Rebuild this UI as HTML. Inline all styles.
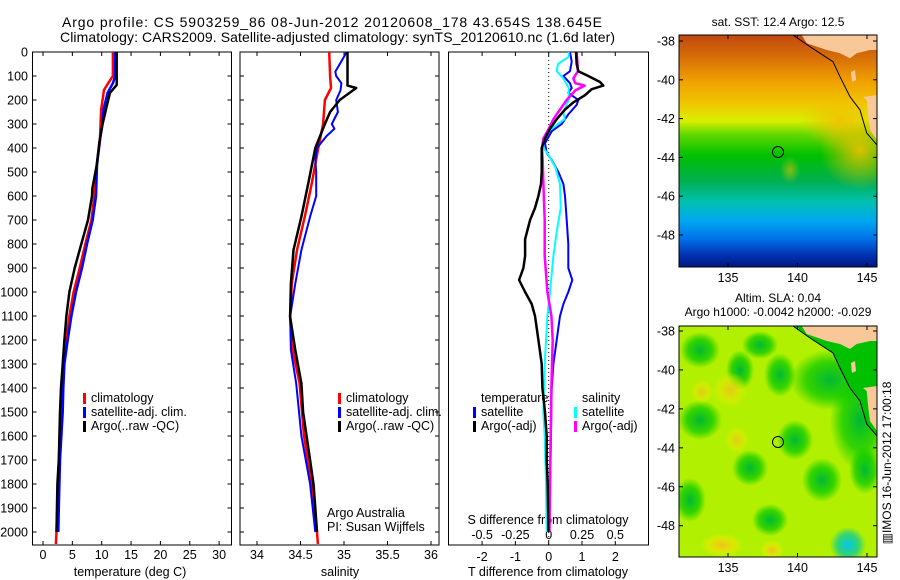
<!DOCTYPE html>
<html><head><meta charset="utf-8"><style>
html,body{margin:0;padding:0;background:#fff;}
svg{display:block;font-family:"Liberation Sans",sans-serif;}
</style></head><body>
<svg id="fig" width="900" height="580" viewBox="0 0 900 580" xmlns="http://www.w3.org/2000/svg">
<defs>
<linearGradient id="sstGrad" x1="0" y1="0" x2="0" y2="1">
<stop offset="0" stop-color="#c04810"/><stop offset="0.1" stop-color="#d87008"/>
<stop offset="0.2" stop-color="#f0a000"/><stop offset="0.3" stop-color="#f0c800"/>
<stop offset="0.37" stop-color="#d8f000"/><stop offset="0.43" stop-color="#60d800"/>
<stop offset="0.52" stop-color="#00c000"/><stop offset="0.63" stop-color="#00b050"/>
<stop offset="0.72" stop-color="#00c0b0"/><stop offset="0.8" stop-color="#00a8f0"/>
<stop offset="0.88" stop-color="#0070e8"/><stop offset="0.95" stop-color="#0030b0"/>
<stop offset="1" stop-color="#001880"/></linearGradient>
<radialGradient id="sstR" cx="0.5" cy="0.5" r="0.5"><stop offset="0" stop-color="#f0c000" stop-opacity="0.9"/><stop offset="1" stop-color="#f0c000" stop-opacity="0"/></radialGradient>
<radialGradient id="gSpot" cx="0.5" cy="0.5" r="0.5"><stop offset="0" stop-color="#00b838"/><stop offset="0.6" stop-color="#00c800" stop-opacity="0.7"/><stop offset="1" stop-color="#00c800" stop-opacity="0"/></radialGradient>
<radialGradient id="ySpot" cx="0.5" cy="0.5" r="0.5"><stop offset="0" stop-color="#f0c020"/><stop offset="0.6" stop-color="#e8e800" stop-opacity="0.7"/><stop offset="1" stop-color="#e8f000" stop-opacity="0"/></radialGradient>
<radialGradient id="cSpot" cx="0.5" cy="0.5" r="0.5"><stop offset="0" stop-color="#00c8f0"/><stop offset="0.6" stop-color="#00c8a0" stop-opacity="0.7"/><stop offset="1" stop-color="#00c8a0" stop-opacity="0"/></radialGradient>
<clipPath id="clipTop"><rect x="679" y="35" width="198" height="232"/></clipPath>
<clipPath id="clipBot"><rect x="679" y="326" width="198" height="231"/></clipPath>
</defs>

<text x="62" y="27" font-size="14" textLength="540">Argo profile: CS 5903259_86 08-Jun-2012 20120608_178 43.654S 138.645E</text>
<text x="60" y="42" font-size="14" textLength="555">Climatology: CARS2009. Satellite-adjusted climatology: synTS_20120610.nc (1.6d later)</text>

<g id="p1"></g>
<g id="p2"></g>
<g id="p3"></g>

<g>
<text x="778" y="26" font-size="12" text-anchor="middle">sat. SST: 12.4 Argo: 12.5</text>
<g clip-path="url(#clipTop)">
<rect x="679" y="35" width="198" height="232" fill="url(#sstGrad)"/>
<ellipse cx="860" cy="150" rx="40" ry="40" fill="url(#sstR)"/>
<ellipse cx="840" cy="120" rx="40" ry="30" fill="url(#sstR)"/>
<ellipse cx="790" cy="170" rx="10" ry="14" fill="url(#sstR)" opacity="0.6"/>
<polygon points="801.7,35 806.7,43.3 826.7,50 840,53.3 850,58.3 856.7,53.3 870,50 877,50 877,35" fill="#f8c898"/>
<polygon points="863,97 866.7,100 868.3,116.7 870,130 877,140 877,95" fill="#f8c898"/>
<polygon points="851,72 855,70 856,80 852,82" fill="#f8c898"/>
<polyline points="793,35 810,46.7 833,61.7 840,76.7 850,96.7 860,110 866.7,133 877,145" fill="none" stroke="#000" stroke-width="1"/>
</g>
<rect x="679" y="35" width="198" height="232" fill="none" stroke="#000" stroke-width="1"/>
<circle cx="778" cy="152" r="5.5" fill="none" stroke="#000" stroke-width="1"/>
<g id="mapAxTop"></g>
</g>

<g>
<text x="778" y="302" font-size="12" text-anchor="middle">Altim. SLA: 0.04</text>
<text x="778" y="316" font-size="12" text-anchor="middle">Argo h1000: -0.0042 h2000: -0.029</text>
<g clip-path="url(#clipBot)">
<rect x="679" y="326" width="198" height="231" fill="#b0f000"/>
<ellipse cx="760" cy="345" rx="18" ry="14" fill="url(#gSpot)"/>
<ellipse cx="700" cy="350" rx="20" ry="18" fill="url(#gSpot)"/>
<ellipse cx="740" cy="370" rx="14" ry="20" fill="url(#gSpot)"/>
<ellipse cx="780" cy="375" rx="16" ry="22" fill="url(#gSpot)"/>
<ellipse cx="830" cy="380" rx="40" ry="30" fill="url(#gSpot)"/>
<ellipse cx="860" cy="420" rx="30" ry="50" fill="url(#gSpot)"/>
<ellipse cx="700" cy="420" rx="22" ry="20" fill="url(#gSpot)"/>
<ellipse cx="795" cy="440" rx="18" ry="20" fill="url(#gSpot)"/>
<ellipse cx="750" cy="468" rx="18" ry="18" fill="url(#gSpot)"/>
<ellipse cx="822" cy="480" rx="20" ry="22" fill="url(#gSpot)"/>
<ellipse cx="770" cy="520" rx="18" ry="16" fill="url(#gSpot)"/>
<ellipse cx="690" cy="500" rx="16" ry="22" fill="url(#gSpot)"/>
<ellipse cx="865" cy="470" rx="16" ry="24" fill="url(#gSpot)"/>
<ellipse cx="730" cy="390" rx="18" ry="18" fill="url(#ySpot)" opacity="0.8"/>
<ellipse cx="702" cy="392" rx="12" ry="12" fill="url(#ySpot)" opacity="0.8"/>
<ellipse cx="737" cy="440" rx="12" ry="14" fill="url(#ySpot)" opacity="0.8"/>
<ellipse cx="722" cy="545" rx="22" ry="12" fill="url(#ySpot)"/>
<ellipse cx="772" cy="550" rx="12" ry="10" fill="url(#ySpot)"/>
<ellipse cx="848" cy="545" rx="18" ry="18" fill="url(#cSpot)"/>
<polygon points="793,326 810,338 833,353 840,368 850,388 860,401 866.7,424 877,436 877,326" fill="#00c000"/>
<polygon points="801.7,326 806.7,334 826.7,341 840,344 850,349 856.7,344 870,341 877,341 877,326" fill="#f8c898"/>
<polygon points="863,388 866.7,391 868.3,408 870,421 877,431 877,386" fill="#f8c898"/>
<polygon points="851,363 855,361 856,371 852,373" fill="#f8c898"/>
<polyline points="793,326 810,338 833,353 840,368 850,388 860,401 866.7,424 877,436" fill="none" stroke="#000" stroke-width="1"/>
</g>
<rect x="679" y="326" width="198" height="231" fill="none" stroke="#000" stroke-width="1"/>
<circle cx="778" cy="442" r="5.5" fill="none" stroke="#000" stroke-width="1"/>
<g id="mapAxBot"></g>
</g>

<text transform="translate(891,463) rotate(-90)" font-size="12" text-anchor="middle">▥IMOS 16-Jun-2012 17:00:18</text>
</svg>
<script>
const tDepthArgo = [0,137,171,242,305,375,472,570,600,700,800,900,1000,1100,1200,1300,1400,1500,1700,1800,2000];
const tArgo      = [12.55,12.55,11.4,10.7,10.1,9.6,9.15,8.4,8.35,7.67,6.53,5.4,4.49,3.98,3.64,3.35,3.07,2.9,2.7,2.45,2.3];
const tDepthClim = [0,100,130,158,242,305,375,472,600,700,800,900,1000,1100,1200,1300,1400,1500,2000,2050];
const tClim      = [11.9,11.9,11.1,10.4,9.9,9.8,9.7,9.15,8.75,8.24,7.21,6.25,5.22,4.49,3.98,3.6,3.3,3.0,2.3,2.2];
const tDepthSat  = [0,100,130,170,240,305,375,470,600,700,800,900,1000,1100,1200,1300,1400,1500,1700,1900,2000];
const tSat       = [12.3,12.3,11.9,11.0,10.3,10.1,9.65,9.2,9.03,8.46,7.5,6.64,5.62,4.83,4.2,3.64,3.45,3.35,2.9,2.7,2.6];

const sDepthArgo = [0,140,150,200,250,300,400,547,686,825,964,1103,1242,1381,1500,1600,1700,1800,1900,2000];
const sArgo      = [35.04,35.04,35.14,34.95,34.84,34.78,34.67,34.59,34.51,34.42,34.39,34.38,34.44,34.51,34.53,34.57,34.61,34.65,34.67,34.69];
const sDepthClim = [0,100,150,200,300,408,547,686,825,964,1103,1242,1381,1600,1800,2000,2050];
const sClim      = [34.83,34.84,34.85,34.78,34.76,34.70,34.63,34.55,34.46,34.40,34.38,34.41,34.49,34.54,34.63,34.69,34.70];
const sDepthSat  = [0,20,82,100,130,160,200,250,300,320,350,400,450,500,600,686,825,964,1103,1242,1381,1600,1800,2000];
const sSat       = [35.03,35.0,34.9,34.91,34.97,34.96,34.91,34.93,34.86,34.89,34.8,34.69,34.67,34.68,34.68,34.61,34.51,34.44,34.38,34.39,34.45,34.51,34.61,34.67];

const dDepthTArgo = [0,50,80,100,125,140,155,180,210,240,280,320,360,400,500,550,600,650,700,780,850,900,950,1000,1050,1100,1200,1300,1400,1500,1600,1700,1800,2000];
const dTArgo      = [0.82,0.84,0.89,1.19,1.54,1.64,1.29,1.09,0.74,0.49,0.24,0.04,-0.11,-0.21,-0.21,-0.23,-0.31,-0.41,-0.56,-0.71,-0.71,-0.76,-0.89,-0.71,-0.51,-0.41,-0.31,-0.21,-0.19,-0.11,-0.06,-0.06,-0.03,-0.01];
const dDepthTSat  = [0,40,80,100,130,150,170,200,220,260,300,330,380,420,450,500,550,600,700,800,900,950,1000,1050,1100,1200,1300,1400,1600,1800,2000];
const dTSat       = [0.64,0.69,0.64,0.44,0.64,0.69,0.59,0.89,0.84,0.59,0.39,0.09,-0.11,-0.06,0.09,0.29,0.44,0.49,0.54,0.59,0.59,0.71,0.59,0.44,0.34,0.24,0.14,0.09,0.07,0.04,0.02];
const dDepthSSat  = [0,20,50,80,110,150,200,250,280,300,330,370,400,430,480,550,650,750,850,1000,1100,1300,1400,1500,1600,1800,2000];
const dSSat       = [0.15,0.15,0.07,0.06,0.11,0.15,0.15,0.11,0.12,0.07,0,-0.04,-0.04,0,0.05,0.085,0.09,0.06,0.035,0.01,-0.01,-0.03,-0.035,-0.04,-0.03,-0.02,-0.015];
const dDepthSArgo = [0,80,110,130,140,160,200,240,280,320,360,400,450,550,700,850,1000,1100,1200,1300,1400,1600,1800,2000];
const dSArgo      = [0.21,0.22,0.185,0.2,0.27,0.2,0.135,0.085,0.035,0,-0.04,-0.05,-0.045,-0.04,-0.03,-0.03,-0.01,0.02,0.03,0.025,0.02,0.015,0.01,0.005];

const depthTicks = [0,100,200,300,400,500,600,700,800,900,1000,1100,1200,1300,1400,1500,1600,1700,1800,1900,2000];
const tempTicks = [0,5,10,15,20,25,30];
const salTicks = [34,34.5,35,35.5,36];
const salTickLabels = ["34","34.5","35","35.5","36"];
const dTTicks = [-2,-1,0,1,2];
const dSTicks = [-0.5,-0.25,0,0.25,0.5];
const dSTickLabels = ["-0.5","-0.25","0","0.25","0.5"];
const latTicks = [-38,-40,-42,-44,-46,-48];
const lonTicks = [135,140,145];

const NS="http://www.w3.org/2000/svg";
const yD = d => 52 + d*0.24;
const xT = t => 43 + t*5.87;
const xS = s => 257 + (s-34)*87;
const xDT = v => 548.7 + v*33.3;
const xDS = v => 548.7 + v*4*33.3;
const xLon = l => 728 + (l-135)*13.9;
const yLatTop = l => 41 + (-38-l)*19.4;
const yLatBot = l => 331 + (-38-l)*19.47;

function mk(tag, attrs, parent){const e=document.createElementNS(NS,tag);for(const k in attrs)e.setAttribute(k,attrs[k]);parent.appendChild(e);return e;}
function txt(s,attrs,parent){const e=mk('text',attrs,parent);e.textContent=s;return e;}
function line(xs,ds,fx,color,w,parent,name){
  let p='';for(let i=0;i<xs.length;i++){p+=(i?'L':'M')+fx(xs[i]).toFixed(1)+','+yD(ds[i]).toFixed(1);}
  const e=mk('path',{d:p,fill:'none',stroke:color,'stroke-width':w,'stroke-linejoin':'round'},parent);
  
  
  return e;
}
function frame(g,x0,x1,name){
  const r=mk('rect',{x:x0,y:52,width:x1-x0,height:493,fill:'none',stroke:'#000','stroke-width':1},g);
  
  
}
function legend(g,x,y,color,label,name){
  const m=mk('rect',{x:x,y:y-9,width:3,height:11,fill:color},g);
  
  
  const t=txt(label,{x:x+8,y:y,'font-size':12.5},g);
  
  
}
function label(s,attrs,parent,name){
  const t=txt(s,attrs,parent);
  
  
}

const p1=document.getElementById('p1');
frame(p1,32.5,231.5,'temperature-plot-frame');
depthTicks.forEach(d=>{
  mk('line',{x1:32.5,x2:36.5,y1:yD(d),y2:yD(d),stroke:'#000'},p1);
  mk('line',{x1:227.5,x2:231.5,y1:yD(d),y2:yD(d),stroke:'#000'},p1);
  label(String(d),{x:28,y:yD(d)+4.5,'font-size':12.5,'text-anchor':'end'},p1,'depth-tick-label');
});
tempTicks.forEach(v=>{
  mk('line',{x1:xT(v),x2:xT(v),y1:52,y2:56,stroke:'#000'},p1);
  mk('line',{x1:xT(v),x2:xT(v),y1:541,y2:545,stroke:'#000'},p1);
  label(String(v),{x:xT(v),y:559,'font-size':12.5,'text-anchor':'middle'},p1,'temperature-tick-label');
});
label('temperature (deg C)',{x:130,y:576,'font-size':12.5,'text-anchor':'middle'},p1,'temperature-axis-title');
line(tClim,tDepthClim,xT,'#ff0000',2.5,p1,'temperature-climatology-line');
line(tSat,tDepthSat,xT,'#0000ff',2.5,p1,'temperature-satellite-line');
line(tArgo,tDepthArgo,xT,'#000000',2.5,p1,'temperature-argo-line');
legend(p1,83,402,'#ff0000','climatology','temp-legend-climatology');
legend(p1,83,416,'#0000ff','satellite-adj. clim.','temp-legend-satellite');
legend(p1,83,430,'#000000','Argo(..raw -QC)','temp-legend-argo');

const p2=document.getElementById('p2');
frame(p2,240,439,'salinity-plot-frame');
depthTicks.forEach(d=>{
  mk('line',{x1:240,x2:244,y1:yD(d),y2:yD(d),stroke:'#000'},p2);
  mk('line',{x1:435,x2:439,y1:yD(d),y2:yD(d),stroke:'#000'},p2);
});
salTicks.forEach((v,i)=>{
  mk('line',{x1:xS(v),x2:xS(v),y1:52,y2:56,stroke:'#000'},p2);
  mk('line',{x1:xS(v),x2:xS(v),y1:541,y2:545,stroke:'#000'},p2);
  label(salTickLabels[i],{x:xS(v),y:559,'font-size':12.5,'text-anchor':'middle'},p2,'salinity-tick-label');
});
label('salinity',{x:340,y:576,'font-size':12.5,'text-anchor':'middle'},p2,'salinity-axis-title');
line(sClim,sDepthClim,xS,'#ff0000',2.5,p2,'salinity-climatology-line');
line(sSat,sDepthSat,xS,'#0000ff',2,p2,'salinity-satellite-line');
line(sArgo,sDepthArgo,xS,'#000000',2.5,p2,'salinity-argo-line');
legend(p2,338,402,'#ff0000','climatology','sal-legend-climatology');
legend(p2,338,416,'#0000ff','satellite-adj. clim.','sal-legend-satellite');
legend(p2,338,430,'#000000','Argo(..raw -QC)','sal-legend-argo');
label('Argo Australia',{x:327,y:517,'font-size':12.5},p2,'argo-australia-label');
label('PI: Susan Wijffels',{x:327,y:531,'font-size':12.5},p2,'pi-label');

const p3=document.getElementById('p3');
frame(p3,448.5,648.5,'difference-plot-frame');
mk('line',{x1:xDT(0),x2:xDT(0),y1:52,y2:545,stroke:'#000','stroke-width':1,'stroke-dasharray':'1,3'},p3);
dTTicks.forEach(v=>{
  mk('line',{x1:xDT(v),x2:xDT(v),y1:52,y2:56,stroke:'#000'},p3);
  mk('line',{x1:xDT(v),x2:xDT(v),y1:541,y2:545,stroke:'#000'},p3);
  label(String(v),{x:xDT(v),y:561,'font-size':12.5,'text-anchor':'middle'},p3,'temp-diff-tick-label');
});
dSTicks.forEach((v,i)=>{
  label(dSTickLabels[i],{x:xDS(v),y:539,'font-size':12.5,'text-anchor':'middle'},p3,'sal-diff-tick-label');
});
label('S difference from climatology',{x:548,y:524,'font-size':12.5,'text-anchor':'middle'},p3,'sal-diff-axis-title');
label('T difference from climatology',{x:548,y:576,'font-size':12.5,'text-anchor':'middle'},p3,'temp-diff-axis-title');
line(dTSat,dDepthTSat,xDT,'#0000ff',2,p3,'temp-diff-satellite-line');
line(dSSat,dDepthSSat,xDS,'#00ffff',2,p3,'sal-diff-satellite-line');
line(dSArgo,dDepthSArgo,xDS,'#ff00ff',2.5,p3,'sal-diff-argo-line');
line(dTArgo,dDepthTArgo,xDT,'#000000',2.5,p3,'temp-diff-argo-line');
label('temperature',{x:481,y:402,'font-size':12.5},p3,'temp-legend-heading');
label('salinity',{x:582,y:402,'font-size':12.5},p3,'sal-legend-heading');
legend(p3,473,416,'#0000ff','satellite','diff-legend-temp-satellite');
legend(p3,473,430,'#000000','Argo(-adj)','diff-legend-temp-argo');
legend(p3,574,416,'#00ffff','satellite','diff-legend-sal-satellite');
legend(p3,574,430,'#ff00ff','Argo(-adj)','diff-legend-sal-argo');

function mapAxes(gid,yLat,top,bottom){
  const g=document.getElementById(gid);
  latTicks.forEach(l=>{
    const y=yLat(l);
    mk('line',{x1:679,x2:683,y1:y,y2:y,stroke:'#000'},g);
    mk('line',{x1:873,x2:877,y1:y,y2:y,stroke:'#000'},g);
    label(String(l),{x:675,y:y+4.5,'font-size':12.5,'text-anchor':'end'},g,'latitude-tick-label');
  });
  lonTicks.forEach(l=>{
    const x=xLon(l);
    mk('line',{x1:x,x2:x,y1:top,y2:top+4,stroke:'#000'},g);
    mk('line',{x1:x,x2:x,y1:bottom-4,y2:bottom,stroke:'#000'},g);
    label(String(l),{x:x,y:bottom+15,'font-size':12.5,'text-anchor':'middle'},g,'longitude-tick-label');
  });
}
mapAxes('mapAxTop',yLatTop,35,267);
mapAxes('mapAxBot',yLatBot,326,557);
</script>
</body></html>
